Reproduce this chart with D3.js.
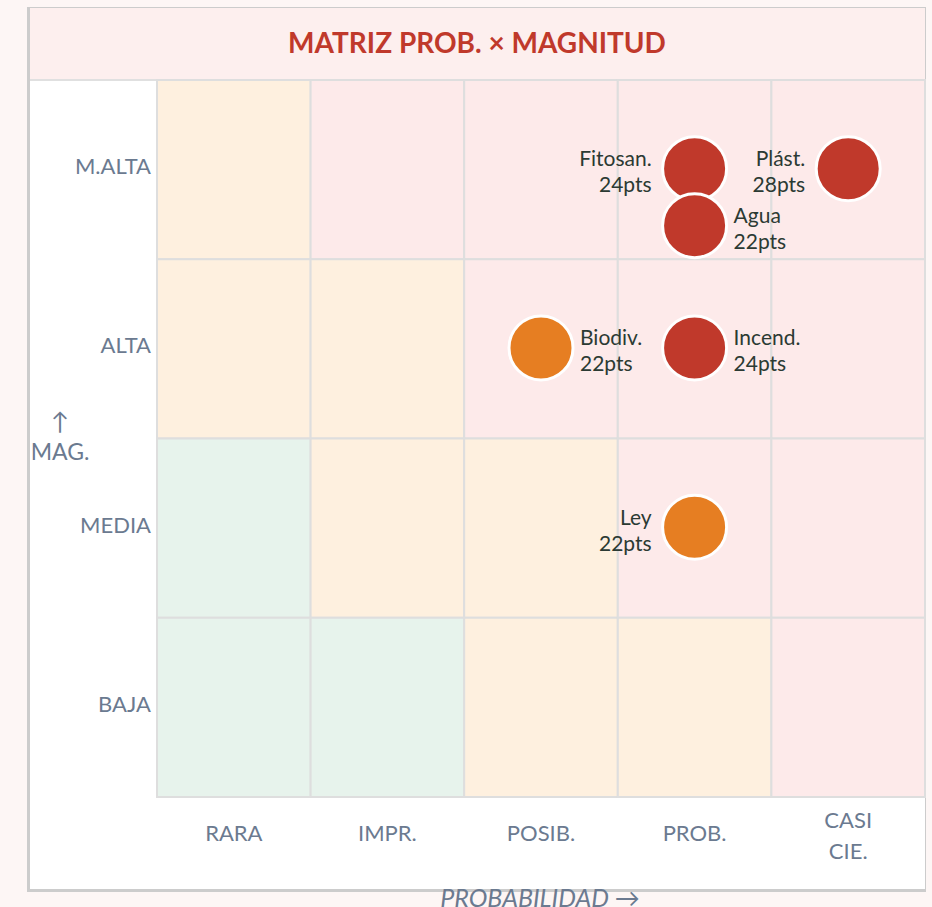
<!DOCTYPE html>
<html>
<head>
<meta charset="utf-8">
<script src="https://cdn.jsdelivr.net/npm/d3@7"></script>
<style>
  body { margin: 0; background: #fdf6f5; }
  svg { display: block; font-family: Lato, "Open Sans", sans-serif; }
</style>
</head>
<body>
<svg width="932" height="907"></svg>
<script>
// categories
const probCats = ["RARA", "IMPR.", "POSIB.", "PROB.", "CASI CIE."];
const magCats = ["M.ALTA", "ALTA", "MEDIA", "BAJA"]; // top to bottom

// zone of each cell, rows follow magCats, columns follow probCats
const cellLevels = [
  ["med", "high", "high", "high", "high"],
  ["med", "med", "high", "high", "high"],
  ["low", "med", "med", "high", "high"],
  ["low", "low", "med", "med", "high"]
];

// risks
const riskNames = ["Fitosan.", "Agua", "Plást.", "Biodiv.", "Incend.", "Ley"];
const riskProb = ["PROB.", "PROB.", "CASI CIE.", "POSIB.", "PROB.", "PROB."];
const riskMag = ["M.ALTA", "M.ALTA", "M.ALTA", "ALTA", "ALTA", "MEDIA"];
const riskPts = [24, 22, 28, 22, 24, 22];
const riskLevel = ["high", "high", "high", "med", "high", "med"];
const labelSide = ["left", "right", "left", "right", "right", "left"];

const cellFill = { low: "#e7f3ec", med: "#fef0df", high: "#fdeaea" };
const dotFill = { high: "#c0392b", med: "#e67e22" };

const svg = d3.select("svg");

const plotLeft = 157, plotRight = 925, plotTop = 80, plotBottom = 797;

// panel
svg.append("rect").attr("x", 27).attr("y", 7).attr("width", 899).attr("height", 885).attr("fill", "#cccccc");
svg.append("rect").attr("x", 30).attr("y", 8).attr("width", 895).attr("height", 881).attr("fill", "#ffffff");
svg.append("rect").attr("x", 30).attr("y", 8).attr("width", 895).attr("height", 72).attr("fill", "#fdefee");
svg.append("line").attr("x1", 30).attr("x2", 925).attr("y1", 80).attr("y2", 80)
  .attr("stroke", "#e0e0e0").attr("stroke-width", 2);

svg.append("text")
  .attr("x", 477).attr("y", 42)
  .attr("text-anchor", "middle").attr("dominant-baseline", "central")
  .attr("font-size", 28).attr("font-weight", "bold").attr("fill", "#c0392b")
  .text("MATRIZ PROB. × MAGNITUD");

const x = d3.scaleBand().domain(probCats).range([plotLeft, plotRight]);
const y = d3.scaleBand().domain(magCats).range([plotTop, plotBottom]);

// cells
const cells = [];
magCats.forEach((m, i) => probCats.forEach((p, j) => cells.push({ m, p, lvl: cellLevels[i][j] })));

svg.append("g").selectAll("rect").data(cells).join("rect")
  .attr("x", d => x(d.p)).attr("y", d => y(d.m))
  .attr("width", x.bandwidth()).attr("height", y.bandwidth())
  .attr("fill", d => cellFill[d.lvl])
  .attr("stroke", "#dedede").attr("stroke-width", 2);

// axes
const yAxis = svg.append("g").attr("transform", `translate(${plotLeft - 6},0)`)
  .call(d3.axisLeft(y).tickSize(0).tickPadding(0));
yAxis.select(".domain").remove();
yAxis.selectAll("text").attr("font-size", 22).attr("fill", "#6b7a90")
  .attr("font-family", "Lato, sans-serif").attr("y", -2).attr("dy", "0.3em");

const xAxis = svg.append("g").attr("transform", `translate(0,${plotBottom})`)
  .call(d3.axisBottom(x).tickSize(0).tickPadding(0));
xAxis.select(".domain").remove();
xAxis.selectAll("text")
  .attr("font-size", 22).attr("fill", "#6b7a90").attr("font-family", "Lato, sans-serif")
  .attr("y", 36).attr("dy", "0.35em")
  .each(function (d) {
    const parts = d.split(" ");
    if (parts.length > 1) {
      const t = d3.select(this).text(null);
      parts.forEach((s, k) => t.append("tspan").attr("x", 0)
        .attr("dy", k === 0 ? "-0.25em" : "1.45em").text(s));
    }
  });

// axis titles
svg.append("text").attr("x", 60).attr("y", 420)
  .attr("text-anchor", "middle").attr("dominant-baseline", "central")
  .attr("font-size", 24).attr("fill", "#6b7a90").text("↑");
svg.append("text").attr("x", 60).attr("y", 451)
  .attr("text-anchor", "middle").attr("dominant-baseline", "central")
  .attr("font-size", 23).attr("fill", "#6b7a90").text("MAG.");
svg.append("text").attr("x", 540).attr("y", 897)
  .attr("text-anchor", "middle").attr("dominant-baseline", "central")
  .attr("font-size", 25).attr("font-style", "italic").attr("fill", "#6b7a90")
  .text("PROBABILIDAD →");

// risks, stacked when they share a cell
const seen = {};
const risks = riskNames.map((name, i) => {
  const key = riskProb[i] + "|" + riskMag[i];
  const k = seen[key] || 0;
  seen[key] = k + 1;
  return {
    name, pts: riskPts[i], lvl: riskLevel[i], side: labelSide[i],
    cx: x(riskProb[i]) + x.bandwidth() / 2,
    cy: y(riskMag[i]) + y.bandwidth() / 2 - 1 + k * 57
  };
});

const rg = svg.append("g").selectAll("g").data(risks).join("g")
  .attr("transform", d => `translate(${d.cx},${d.cy})`);

rg.append("circle").attr("r", 32)
  .attr("fill", d => dotFill[d.lvl])
  .attr("stroke", "#ffffff").attr("stroke-width", 3);

const lbl = rg.append("text")
  .attr("text-anchor", d => d.side === "left" ? "end" : "start")
  .attr("font-size", 21).attr("fill", "#2b3a33");
lbl.append("tspan")
  .attr("x", d => d.side === "left" ? -43 : 39).attr("y", -11)
  .attr("dominant-baseline", "central").text(d => d.name);
lbl.append("tspan")
  .attr("x", d => d.side === "left" ? -43 : 39).attr("y", 15)
  .attr("dominant-baseline", "central").text(d => d.pts + "pts");
</script>
</body>
</html>
